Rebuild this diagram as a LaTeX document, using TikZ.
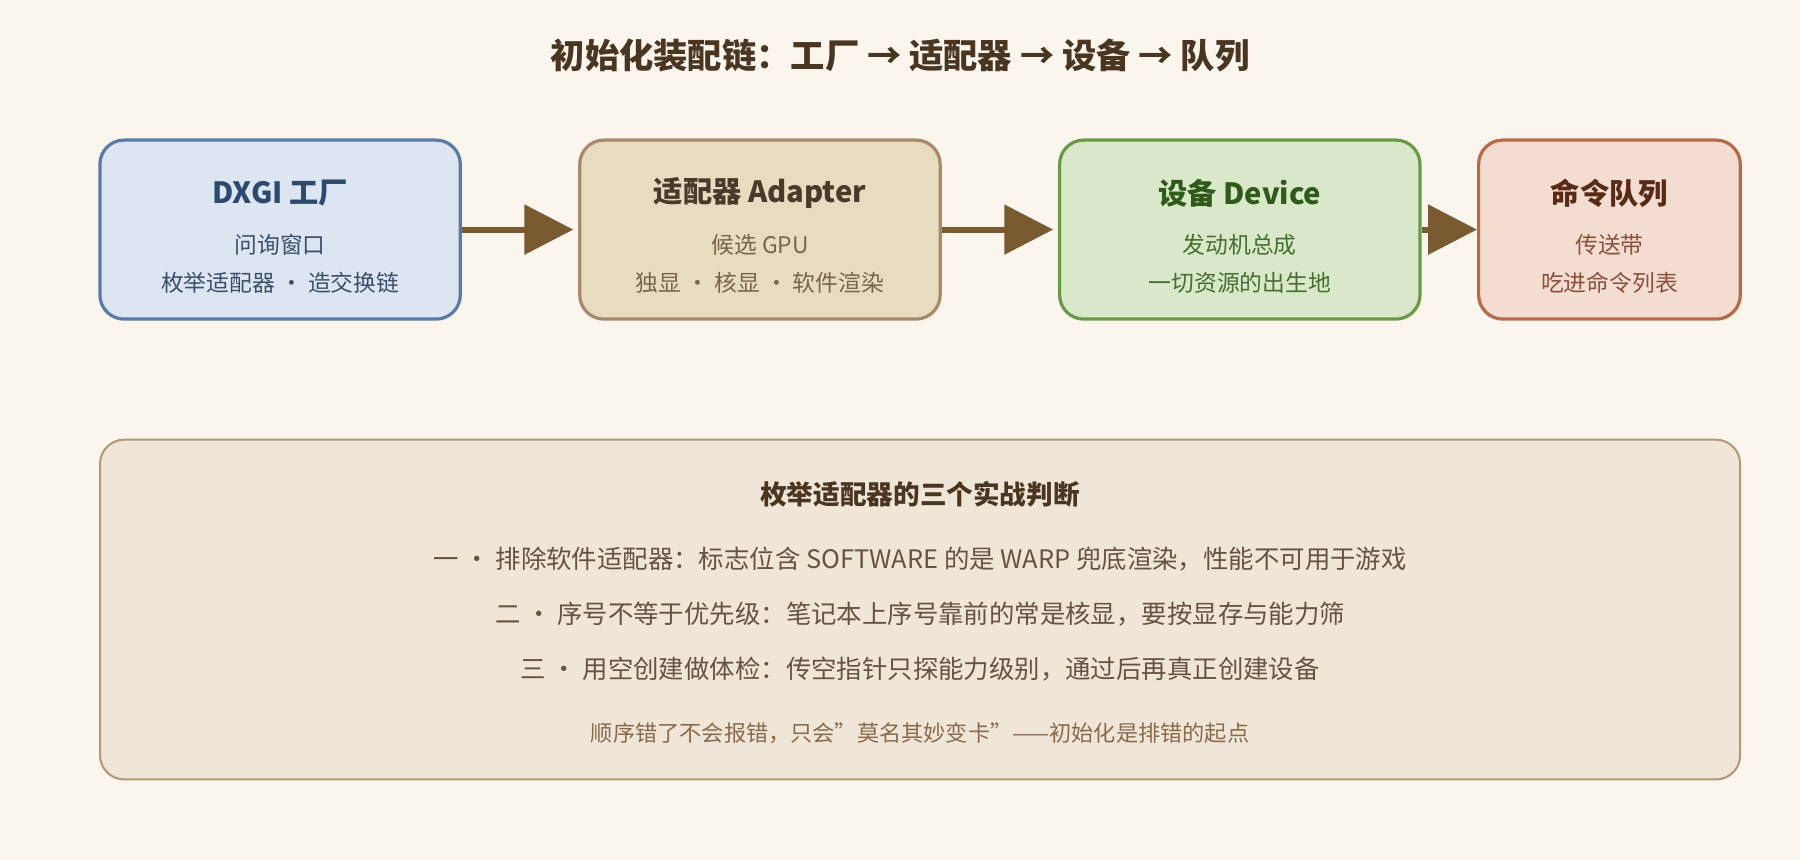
\documentclass[tikz,border=0pt]{standalone}
\usepackage{fontspec}
\setmainfont{Noto Sans CJK SC}
\usetikzlibrary{arrows.meta}
\definecolor{bgc}{HTML}{FAF6EE}
\definecolor{ink}{HTML}{4A3520}
\definecolor{arr}{HTML}{7A5A30}
\definecolor{facfill}{HTML}{DDE5F0}\definecolor{facline}{HTML}{5A7AA8}
\definecolor{facink}{HTML}{2C4A70}\definecolor{facsub}{HTML}{3C506E}
\definecolor{adafill}{HTML}{E8DCC0}\definecolor{adaline}{HTML}{A8896A}
\definecolor{adaink}{HTML}{4A3A2A}\definecolor{adasub}{HTML}{786450}
\definecolor{devfill}{HTML}{D9E8C8}\definecolor{devline}{HTML}{6A9A48}
\definecolor{devink}{HTML}{2E5A1A}\definecolor{devsub}{HTML}{466E32}
\definecolor{quefill}{HTML}{F2DDD0}\definecolor{queline}{HTML}{B86A48}
\definecolor{queink}{HTML}{5A2A18}\definecolor{quesub}{HTML}{8C503C}
\definecolor{panfill}{HTML}{EFE6D8}\definecolor{panline}{HTML}{B09870}
\definecolor{notec}{HTML}{8A6A4A}
\tikzset{
  stage/.style={draw, line width=1.6pt, rounded corners=12pt, minimum width=6.28cm, minimum height=3.12cm},
  head/.style={font=\fontsize{14.5}{16}\selectfont\bfseries},
  sub/.style={font=\fontsize{11.3}{13}\selectfont},
  flow/.style={-{Triangle[length=0.85cm,width=0.85cm]}, line width=3pt, arr},
  row/.style={font=\fontsize{12.6}{15}\selectfont, text=ink!85}
}
\begin{document}
\begin{tikzpicture}[x=0.02cm,y=-0.02cm]
\fill[bgc] (0,0) rectangle (1568,749);
\useasboundingbox (0,0) rectangle (1568,749);

\node[font=\fontsize{17}{20}\selectfont\bfseries, text=ink] (title) at (784,48) {初始化装配链：工厂 → 适配器 → 设备 → 队列};

% stage boxes
\node[stage, fill=facfill, draw=facline] (fac) at (244,200) {};
\node[stage, fill=adafill, draw=adaline] (ada) at (662,200) {};
\node[stage, fill=devfill, draw=devline] (dev) at (1080,200) {};
\node[stage, minimum width=4.56cm, fill=quefill, draw=queline] (que) at (1402,200) {};

\node[head, text=facink] (facT) at (244,168) {DXGI 工厂};
\node[sub, text=facsub] (facA) at (244,213) {问询窗口};
\node[sub, text=facsub] (facB) at (244,246) {枚举适配器 · 造交换链};

\node[head, text=adaink] (adaT) at (662,168) {适配器 Adapter};
\node[sub, text=adasub] (adaA) at (662,213) {候选 GPU};
\node[sub, text=adasub] (adaB) at (662,246) {独显 · 核显 · 软件渲染};

\node[head, text=devink] (devT) at (1080,168) {设备 Device};
\node[sub, text=devsub] (devA) at (1080,213) {发动机总成};
\node[sub, text=devsub] (devB) at (1080,246) {一切资源的出生地};

\node[head, text=queink] (queT) at (1402,168) {命令队列};
\node[sub, text=quesub] (queA) at (1402,213) {传送带};
\node[sub, text=quesub] (queB) at (1402,246) {吃进命令列表};

\draw[flow] (fac.east) -- ++(97,0) coordinate (e1);
\draw[flow] (ada.east) -- ++(97,0) coordinate (e2);
\draw[flow] (dev.east) -- (que.west);

% checklist panel
\node[draw=panline, line width=1pt, rounded corners=12pt, fill=panfill, minimum width=28.58cm, minimum height=5.92cm] (panel) at (801.5,531) {};
\node[font=\fontsize{13.2}{15}\selectfont\bfseries, text=ink] (panT) at (801.5,431) {枚举适配器的三个实战判断};
\node[row] (r1) at (801.5,487) {一 · 排除软件适配器：标志位含 SOFTWARE 的是 WARP 兜底渲染，性能不可用于游戏};
\node[row] (r2) at (801.5,535) {二 · 序号不等于优先级：笔记本上序号靠前的常是核显，要按显存与能力筛};
\node[row] (r3) at (801.5,583) {三 · 用空创建做体检：传空指针只探能力级别，通过后再真正创建设备};
\node[font=\fontsize{11}{13}\selectfont, text=notec] (note) at (801.5,639) {顺序错了不会报错，只会"莫名其妙变卡"——初始化是排错的起点};
\end{tikzpicture}
\end{document}
